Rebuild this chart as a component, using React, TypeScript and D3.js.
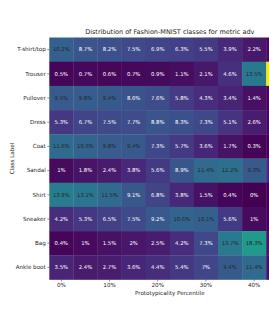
import React, { useRef, useEffect } from 'react'
import * as d3 from 'd3'

const classes = ['T-shirt/top', 'Trouser', 'Pullover', 'Dress', 'Coat', 'Sandal', 'Shirt', 'Sneaker', 'Bag', 'Ankle boot']
const percentiles = ['0%', '5%', '10%', '15%', '20%', '25%', '30%', '35%', '40%', '45%']
const tickLabels = ['0%', '10%', '20%', '30%', '40%']

// share of each class per percentile bin (%)
const tshirt = [10.2, 8.7, 8.2, 7.5, 6.9, 6.3, 5.5, 3.9, 2.2, 1.0]
const trouser = [0.5, 0.7, 0.6, 0.7, 0.9, 1.1, 2.1, 4.6, 13.5, 33.0]
const pullover = [9.5, 9.8, 9.4, 8.6, 7.6, 5.8, 4.3, 3.4, 1.4, 0.5]
const dress = [5.3, 6.7, 7.5, 7.7, 8.8, 8.3, 7.3, 5.1, 2.6, 0.9]
const coat = [11.6, 10.6, 9.8, 9.4, 7.3, 5.7, 3.6, 1.7, 0.3, 0.1]
const sandal = [1, 1.8, 2.4, 3.8, 5.6, 8.9, 11.4, 12.2, 9.3, 4.0]
const shirt = [13.9, 13.1, 11.5, 9.1, 6.8, 3.8, 1.5, 0.4, 0, 0]
const sneaker = [4.2, 5.3, 6.5, 7.5, 9.2, 10.6, 10.1, 5.6, 1, 0.2]
const bag = [0.4, 1, 1.5, 2, 2.5, 4.2, 7.3, 13.7, 18.3, 2.0]
const ankleBoot = [3.5, 2.4, 2.7, 3.6, 4.4, 5.4, 7, 9.4, 11.4, 1.5]

const rows = [tshirt, trouser, pullover, dress, coat, sandal, shirt, sneaker, bag, ankleBoot]

const fmt = (v: number) => (Number.isInteger(v) ? `${v}%` : `${v.toFixed(1)}%`)

const App = () => {
    const svgRef = useRef<SVGSVGElement>(null)

    useEffect(() => {
        const svg = d3.select(svgRef.current)
        svg.selectAll('*').remove()

        const left = 49.3, top = 37.5, w = 241, h = 242
        const font = 'DejaVu Sans, sans-serif'

        const x = d3.scaleBand().domain(percentiles).range([left, left + w])
        const y = d3.scaleBand().domain(classes).range([top, top + h])
        const color = d3.scaleSequential(d3.interpolateViridis).domain([0, 33.5])

        const cells = rows.flatMap((vals, r) => vals.map((v, c) => ({ cls: classes[r], p: percentiles[c], v })))

        svg.selectAll('.cell')
            .data(cells)
            .join('rect')
            .attr('class', 'cell')
            .attr('x', d => x(d.p)!)
            .attr('y', d => y(d.cls)!)
            .attr('width', x.bandwidth() + 0.3)
            .attr('height', y.bandwidth() + 0.3)
            .attr('fill', d => color(d.v))

        svg.selectAll('.annot')
            .data(cells)
            .join('text')
            .attr('class', 'annot')
            .attr('x', d => x(d.p)! + x.bandwidth() / 2)
            .attr('y', d => y(d.cls)! + y.bandwidth() / 2)
            .attr('dy', '0.35em')
            .attr('text-anchor', 'middle')
            .attr('font-family', font)
            .attr('font-size', 5.3)
            .attr('fill', d => (d.v >= 9.3 ? '#262626' : '#ffffff'))
            .text(d => fmt(d.v))

        // y axis
        const yAxis = svg.append('g')
            .attr('transform', `translate(${left},0)`)
            .call(d3.axisLeft(y).tickSize(2).tickPadding(1.6))
        yAxis.select('.domain').remove()
        yAxis.selectAll('line').attr('stroke', '#262626').attr('stroke-width', 0.5)
        yAxis.selectAll('text').attr('font-family', font).attr('font-size', 5.6).attr('fill', '#262626')

        // x axis, every other bin labelled
        const xAxis = svg.append('g')
            .attr('transform', `translate(0,${top + h})`)
            .call(d3.axisBottom(x).tickValues(tickLabels).tickSize(2).tickPadding(2))
        xAxis.select('.domain').remove()
        xAxis.selectAll('line').attr('stroke', '#262626').attr('stroke-width', 0.5)
        xAxis.selectAll('text').attr('font-family', font).attr('font-size', 5.6).attr('fill', '#262626')

        svg.append('text')
            .attr('x', left + w / 2)
            .attr('y', 34)
            .attr('text-anchor', 'middle')
            .attr('font-family', font)
            .attr('font-size', 6.5)
            .attr('fill', '#262626')
            .text('Distribution of Fashion-MNIST classes for metric adv')

        svg.append('text')
            .attr('x', left + w / 2)
            .attr('y', 295)
            .attr('text-anchor', 'middle')
            .attr('font-family', font)
            .attr('font-size', 5.6)
            .attr('fill', '#262626')
            .text('Prototypicality Percentile')

        svg.append('text')
            .attr('transform', `translate(13.5,${top + h / 2}) rotate(-90)`)
            .attr('text-anchor', 'middle')
            .attr('font-family', font)
            .attr('font-size', 5.6)
            .attr('fill', '#262626')
            .text('Class Label')
    }, [])

    return (
        <div style={{ position: 'absolute', left: 0, top: 0, width: 269, height: 314, overflow: 'hidden', background: 'white' }}>
            <svg ref={svgRef} width={269} height={314}></svg>
        </div>
    )
}

export default App
